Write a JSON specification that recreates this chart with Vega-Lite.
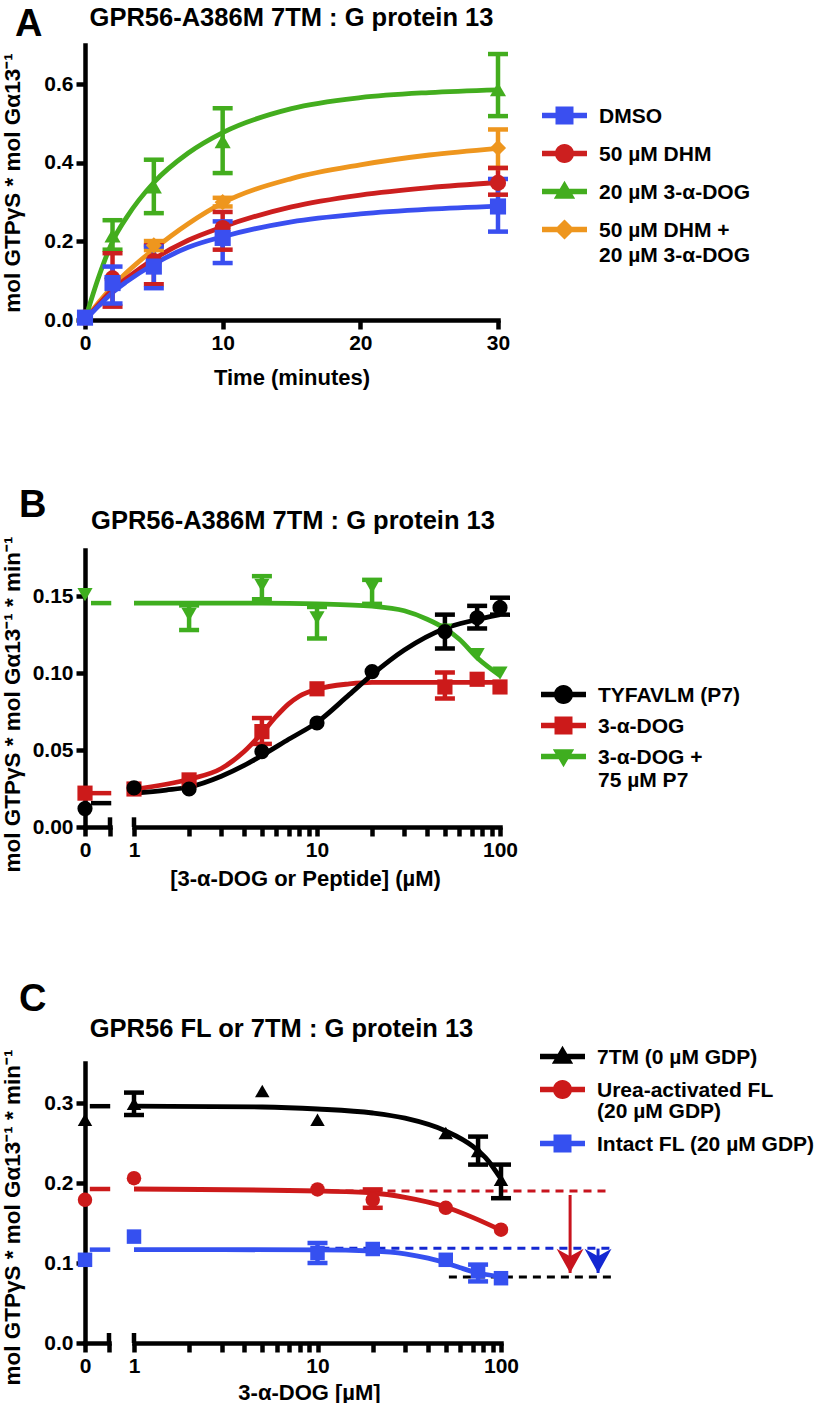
{
"$schema": "https://vega.github.io/schema/vega-lite/v6.json",
"background": "white",
"padding": {"left": 0, "top": 5, "right": 0, "bottom": 0},
"config": {
  "font": "Liberation Sans",
  "view": {"stroke": null},
  "axis": {"grid": false, "domainColor": "#000", "domainWidth": 4.5, "domainCap": "square", "tickColor": "#000", "tickWidth": 4.5, "tickSize": 9, "labelFont": "Liberation Sans", "labelFontSize": 21, "labelFontWeight": "bold", "labelColor": "#000", "labelPadding": 3, "labelFlush": false, "labelOverlap": false, "titleFont": "Liberation Sans", "titleFontSize": 22, "titleFontWeight": "bold", "titleColor": "#000"},
  "axisY": {"minExtent": 53, "maxExtent": 53, "titlePadding": 8, "titleFontSize": 22.5},
  "legend": {"labelFont": "Liberation Sans", "labelFontSize": 21, "labelFontWeight": "bold", "labelColor": "#000", "symbolSize": 506, "symbolStrokeWidth": 0, "symbolOpacity": 1, "labelOffset": 23, "labelLimit": 500, "labelBaseline": "top", "padding": 0},
  "title": {"font": "Liberation Sans", "fontWeight": "bold", "color": "#000"}
},
"datasets": {
  "A_pts": [
    {"t":0,"g":"50 µM DHM + 20 µM 3-α-DOG","y":0.006},
    {"t":2,"g":"50 µM DHM + 20 µM 3-α-DOG","y":0.1},
    {"t":5,"g":"50 µM DHM + 20 µM 3-α-DOG","y":0.19,"lo":0.178,"hi":0.201},
    {"t":10,"g":"50 µM DHM + 20 µM 3-α-DOG","y":0.3,"lo":0.289,"hi":0.311},
    {"t":30,"g":"50 µM DHM + 20 µM 3-α-DOG","y":0.438,"lo":0.387,"hi":0.485},
    {"t":0,"g":"20 µM 3-α-DOG","y":0.006},
    {"t":2,"g":"20 µM 3-α-DOG","y":0.215,"lo":0.179,"hi":0.254},
    {"t":5,"g":"20 µM 3-α-DOG","y":0.34,"lo":0.272,"hi":0.408},
    {"t":10,"g":"20 µM 3-α-DOG","y":0.455,"lo":0.374,"hi":0.539},
    {"t":30,"g":"20 µM 3-α-DOG","y":0.587,"lo":0.519,"hi":0.677},
    {"t":0,"g":"50 µM DHM","y":0.006},
    {"t":2,"g":"50 µM DHM","y":0.106,"lo":0.034,"hi":0.17},
    {"t":5,"g":"50 µM DHM","y":0.15,"lo":0.091,"hi":0.19},
    {"t":10,"g":"50 µM DHM","y":0.234,"lo":0.179,"hi":0.275},
    {"t":30,"g":"50 µM DHM","y":0.349,"lo":0.319,"hi":0.387},
    {"t":0,"g":"DMSO","y":0.006},
    {"t":2,"g":"DMSO","y":0.094,"lo":0.042,"hi":0.136},
    {"t":5,"g":"DMSO","y":0.136,"lo":0.081,"hi":0.187},
    {"t":10,"g":"DMSO","y":0.209,"lo":0.145,"hi":0.251},
    {"t":30,"g":"DMSO","y":0.289,"lo":0.225,"hi":0.359}
  ],
  "A_fit": [
    {"t":0,"g":"50 µM DHM + 20 µM 3-α-DOG","y":0},
    {"t":1,"g":"50 µM DHM + 20 µM 3-α-DOG","y":0.045},
    {"t":2,"g":"50 µM DHM + 20 µM 3-α-DOG","y":0.085},
    {"t":3,"g":"50 µM DHM + 20 µM 3-α-DOG","y":0.12},
    {"t":5,"g":"50 µM DHM + 20 µM 3-α-DOG","y":0.18},
    {"t":7.5,"g":"50 µM DHM + 20 µM 3-α-DOG","y":0.245},
    {"t":10,"g":"50 µM DHM + 20 µM 3-α-DOG","y":0.298},
    {"t":15,"g":"50 µM DHM + 20 µM 3-α-DOG","y":0.36},
    {"t":20,"g":"50 µM DHM + 20 µM 3-α-DOG","y":0.395},
    {"t":25,"g":"50 µM DHM + 20 µM 3-α-DOG","y":0.42},
    {"t":30,"g":"50 µM DHM + 20 µM 3-α-DOG","y":0.437},
    {"t":0,"g":"20 µM 3-α-DOG","y":0},
    {"t":1,"g":"20 µM 3-α-DOG","y":0.11},
    {"t":2,"g":"20 µM 3-α-DOG","y":0.2},
    {"t":3,"g":"20 µM 3-α-DOG","y":0.26},
    {"t":5,"g":"20 µM 3-α-DOG","y":0.35},
    {"t":7.5,"g":"20 µM 3-α-DOG","y":0.425},
    {"t":10,"g":"20 µM 3-α-DOG","y":0.477},
    {"t":15,"g":"20 µM 3-α-DOG","y":0.538},
    {"t":20,"g":"20 µM 3-α-DOG","y":0.566},
    {"t":25,"g":"20 µM 3-α-DOG","y":0.579},
    {"t":30,"g":"20 µM 3-α-DOG","y":0.586},
    {"t":0,"g":"50 µM DHM","y":0},
    {"t":1,"g":"50 µM DHM","y":0.04},
    {"t":2,"g":"50 µM DHM","y":0.077},
    {"t":3,"g":"50 µM DHM","y":0.105},
    {"t":5,"g":"50 µM DHM","y":0.155},
    {"t":7.5,"g":"50 µM DHM","y":0.203},
    {"t":10,"g":"50 µM DHM","y":0.237},
    {"t":15,"g":"50 µM DHM","y":0.288},
    {"t":20,"g":"50 µM DHM","y":0.318},
    {"t":25,"g":"50 µM DHM","y":0.337},
    {"t":30,"g":"50 µM DHM","y":0.35},
    {"t":0,"g":"DMSO","y":0},
    {"t":1,"g":"DMSO","y":0.036},
    {"t":2,"g":"DMSO","y":0.07},
    {"t":3,"g":"DMSO","y":0.097},
    {"t":5,"g":"DMSO","y":0.142},
    {"t":7.5,"g":"DMSO","y":0.185},
    {"t":10,"g":"DMSO","y":0.212},
    {"t":15,"g":"DMSO","y":0.25},
    {"t":20,"g":"DMSO","y":0.27},
    {"t":25,"g":"DMSO","y":0.282},
    {"t":30,"g":"DMSO","y":0.29}
  ],
  "B_pts": [
    {"c":0,"g":"3-α-DOG + 75 µM P7","y":0.151},
    {"c":2,"g":"3-α-DOG + 75 µM P7","y":0.138,"lo":0.128,"hi":0.144},
    {"c":5,"g":"3-α-DOG + 75 µM P7","y":0.157,"lo":0.148,"hi":0.163},
    {"c":10,"g":"3-α-DOG + 75 µM P7","y":0.136,"lo":0.1225,"hi":0.143},
    {"c":20,"g":"3-α-DOG + 75 µM P7","y":0.156,"lo":0.145,"hi":0.1606},
    {"c":50,"g":"3-α-DOG + 75 µM P7","y":0.128},
    {"c":75,"g":"3-α-DOG + 75 µM P7","y":0.112},
    {"c":100,"g":"3-α-DOG + 75 µM P7","y":0.1},
    {"c":0,"g":"3-α-DOG","y":0.022},
    {"c":1,"g":"3-α-DOG","y":0.0247},
    {"c":2,"g":"3-α-DOG","y":0.0306},
    {"c":5,"g":"3-α-DOG","y":0.062,"lo":0.054,"hi":0.0708},
    {"c":10,"g":"3-α-DOG","y":0.0898},
    {"c":50,"g":"3-α-DOG","y":0.091,"lo":0.0835,"hi":0.1004},
    {"c":75,"g":"3-α-DOG","y":0.096},
    {"c":100,"g":"3-α-DOG","y":0.091},
    {"c":0,"g":"TYFAVLM (P7)","y":0.012},
    {"c":1,"g":"TYFAVLM (P7)","y":0.0254},
    {"c":2,"g":"TYFAVLM (P7)","y":0.0247},
    {"c":5,"g":"TYFAVLM (P7)","y":0.049},
    {"c":10,"g":"TYFAVLM (P7)","y":0.0676},
    {"c":20,"g":"TYFAVLM (P7)","y":0.101},
    {"c":50,"g":"TYFAVLM (P7)","y":0.127,"lo":0.116,"hi":0.138},
    {"c":75,"g":"TYFAVLM (P7)","y":0.136,"lo":0.129,"hi":0.1437},
    {"c":100,"g":"TYFAVLM (P7)","y":0.1425,"lo":0.138,"hi":0.149}
  ],
  "B_fit": [
    {"c":1,"g":"3-α-DOG + 75 µM P7","y":0.1455},
    {"c":5,"g":"3-α-DOG + 75 µM P7","y":0.1455},
    {"c":10,"g":"3-α-DOG + 75 µM P7","y":0.145},
    {"c":20,"g":"3-α-DOG + 75 µM P7","y":0.1435},
    {"c":30,"g":"3-α-DOG + 75 µM P7","y":0.1405},
    {"c":40,"g":"3-α-DOG + 75 µM P7","y":0.135},
    {"c":50,"g":"3-α-DOG + 75 µM P7","y":0.129},
    {"c":60,"g":"3-α-DOG + 75 µM P7","y":0.122},
    {"c":75,"g":"3-α-DOG + 75 µM P7","y":0.11},
    {"c":100,"g":"3-α-DOG + 75 µM P7","y":0.0985},
    {"c":1,"g":"3-α-DOG","y":0.0245},
    {"c":2,"g":"3-α-DOG","y":0.031},
    {"c":3,"g":"3-α-DOG","y":0.038},
    {"c":4,"g":"3-α-DOG","y":0.049},
    {"c":5,"g":"3-α-DOG","y":0.061},
    {"c":6,"g":"3-α-DOG","y":0.072},
    {"c":7,"g":"3-α-DOG","y":0.08},
    {"c":8,"g":"3-α-DOG","y":0.085},
    {"c":10,"g":"3-α-DOG","y":0.0895},
    {"c":15,"g":"3-α-DOG","y":0.093},
    {"c":20,"g":"3-α-DOG","y":0.094},
    {"c":50,"g":"3-α-DOG","y":0.094},
    {"c":100,"g":"3-α-DOG","y":0.094},
    {"c":1,"g":"TYFAVLM (P7)","y":0.022},
    {"c":1.5,"g":"TYFAVLM (P7)","y":0.024},
    {"c":2,"g":"TYFAVLM (P7)","y":0.026},
    {"c":3,"g":"TYFAVLM (P7)","y":0.033},
    {"c":4,"g":"TYFAVLM (P7)","y":0.04},
    {"c":5,"g":"TYFAVLM (P7)","y":0.0465},
    {"c":7,"g":"TYFAVLM (P7)","y":0.057},
    {"c":10,"g":"TYFAVLM (P7)","y":0.068},
    {"c":15,"g":"TYFAVLM (P7)","y":0.086},
    {"c":20,"g":"TYFAVLM (P7)","y":0.099},
    {"c":30,"g":"TYFAVLM (P7)","y":0.115},
    {"c":50,"g":"TYFAVLM (P7)","y":0.129},
    {"c":70,"g":"TYFAVLM (P7)","y":0.134},
    {"c":100,"g":"TYFAVLM (P7)","y":0.138}
  ],
  "B_stub": [
    {"g":"TYFAVLM (P7)","level":0.0155},
    {"g":"3-α-DOG","level":0.022},
    {"g":"3-α-DOG + 75 µM P7","level":0.1455}
  ],
  "C_pts": [
    {"c":0,"g":"Intact FL (20 µM GDP)","y":0.104},
    {"c":1,"g":"Intact FL (20 µM GDP)","y":0.133},
    {"c":10,"g":"Intact FL (20 µM GDP)","y":0.1125,"lo":0.1,"hi":0.125},
    {"c":20,"g":"Intact FL (20 µM GDP)","y":0.1175},
    {"c":50,"g":"Intact FL (20 µM GDP)","y":0.104},
    {"c":75,"g":"Intact FL (20 µM GDP)","y":0.0896,"lo":0.077,"hi":0.098},
    {"c":100,"g":"Intact FL (20 µM GDP)","y":0.081},
    {"c":0,"g":"Urea-activated FL (20 µM GDP)","y":0.179},
    {"c":1,"g":"Urea-activated FL (20 µM GDP)","y":0.206},
    {"c":10,"g":"Urea-activated FL (20 µM GDP)","y":0.192},
    {"c":20,"g":"Urea-activated FL (20 µM GDP)","y":0.179,"lo":0.169,"hi":0.192},
    {"c":50,"g":"Urea-activated FL (20 µM GDP)","y":0.169},
    {"c":100,"g":"Urea-activated FL (20 µM GDP)","y":0.1417},
    {"c":0,"g":"7TM (0 µM GDP)","y":0.279},
    {"c":1,"g":"7TM (0 µM GDP)","y":0.299,"lo":0.285,"hi":0.313},
    {"c":5,"g":"7TM (0 µM GDP)","y":0.315},
    {"c":10,"g":"7TM (0 µM GDP)","y":0.279},
    {"c":50,"g":"7TM (0 µM GDP)","y":0.2625},
    {"c":75,"g":"7TM (0 µM GDP)","y":0.24,"lo":0.223,"hi":0.258},
    {"c":100,"g":"7TM (0 µM GDP)","y":0.204,"lo":0.181,"hi":0.223}
  ],
  "C_fit": [
    {"c":1,"g":"7TM (0 µM GDP)","y":0.296},
    {"c":5,"g":"7TM (0 µM GDP)","y":0.295},
    {"c":10,"g":"7TM (0 µM GDP)","y":0.2925},
    {"c":20,"g":"7TM (0 µM GDP)","y":0.2875},
    {"c":30,"g":"7TM (0 µM GDP)","y":0.281},
    {"c":50,"g":"7TM (0 µM GDP)","y":0.265},
    {"c":70,"g":"7TM (0 µM GDP)","y":0.246},
    {"c":85,"g":"7TM (0 µM GDP)","y":0.228},
    {"c":100,"g":"7TM (0 µM GDP)","y":0.205},
    {"c":1,"g":"Urea-activated FL (20 µM GDP)","y":0.1925},
    {"c":10,"g":"Urea-activated FL (20 µM GDP)","y":0.19},
    {"c":20,"g":"Urea-activated FL (20 µM GDP)","y":0.1875},
    {"c":30,"g":"Urea-activated FL (20 µM GDP)","y":0.182},
    {"c":50,"g":"Urea-activated FL (20 µM GDP)","y":0.17},
    {"c":70,"g":"Urea-activated FL (20 µM GDP)","y":0.157},
    {"c":100,"g":"Urea-activated FL (20 µM GDP)","y":0.141},
    {"c":1,"g":"Intact FL (20 µM GDP)","y":0.1167},
    {"c":10,"g":"Intact FL (20 µM GDP)","y":0.1165},
    {"c":20,"g":"Intact FL (20 µM GDP)","y":0.115},
    {"c":30,"g":"Intact FL (20 µM GDP)","y":0.1115},
    {"c":40,"g":"Intact FL (20 µM GDP)","y":0.106},
    {"c":50,"g":"Intact FL (20 µM GDP)","y":0.1},
    {"c":60,"g":"Intact FL (20 µM GDP)","y":0.094},
    {"c":75,"g":"Intact FL (20 µM GDP)","y":0.0875},
    {"c":100,"g":"Intact FL (20 µM GDP)","y":0.083}
  ],
  "C_stub": [
    {"g":"7TM (0 µM GDP)","level":0.296},
    {"g":"Urea-activated FL (20 µM GDP)","level":0.1925},
    {"g":"Intact FL (20 µM GDP)","level":0.1167}
  ],
  "C_guides": [
    {"guide":"Urea-activated plateau","level":0.19,"from":10,"to":398},
    {"guide":"Intact plateau","level":0.1185,"from":10.5,"to":398},
    {"guide":"Minimum","level":0.0825,"from":52,"to":398}
  ],
  "C_arrows": [
    {"guide":"Urea-activated plateau","x":238,"top":0.185,"tip":0.0875},
    {"guide":"Intact plateau","x":338,"top":0.118,"tip":0.0875}
  ]
},
"spacing": 91,
"vconcat": [
 {
  "spacing": 98,
  "vconcat": [
   {
    "title": {"text": "A", "anchor": "start", "fontSize": 38, "dx": 14, "offset": -38},
    "hconcat": [
     {
      "width": 413, "height": 275,
      "title": {"text": "GPR56-A386M 7TM : G protein 13", "fontSize": 25.5, "offset": 14, "dx": 0},
      "resolve": {"scale": {"color": "independent", "shape": "independent"}},
      "layer": [
       {"data": {"name": "A_fit"}, "mark": {"type": "line", "strokeWidth": 4.8, "interpolate": "monotone"},
        "encoding": {
         "x": {"field": "t", "type": "quantitative", "scale": {"domain": [0, 30]}, "axis": {"values": [0, 10, 20, 30], "title": "Time (minutes)", "titlePadding": 14}},
         "y": {"field": "y", "type": "quantitative", "scale": {"domain": [0, 0.7]}, "axis": {"values": [0, 0.2, 0.4, 0.6], "format": ".1f", "title": "mol GTPγS  * mol Gα13⁻¹"}},
         "color": {"field": "g", "type": "nominal", "scale": {"domain": ["DMSO", "50 µM DHM", "20 µM 3-α-DOG", "50 µM DHM + 20 µM 3-α-DOG"], "range": ["#3a4ff0", "#cc1f1f", "#43ad1e", "#ee961e"]}, "legend": null}}},
       {"data": {"name": "A_pts"}, "transform": [{"filter": "isValid(datum.lo)"}], "mark": {"type": "rule", "strokeWidth": 4.5},
        "encoding": {
         "x": {"field": "t", "type": "quantitative"},
         "y": {"field": "lo", "type": "quantitative"}, "y2": {"field": "hi"},
         "color": {"field": "g", "type": "nominal", "scale": {"domain": ["DMSO", "50 µM DHM", "20 µM 3-α-DOG", "50 µM DHM + 20 µM 3-α-DOG"], "range": ["#3a4ff0", "#cc1f1f", "#43ad1e", "#ee961e"]}, "legend": null}}},
       {"data": {"name": "A_pts"}, "transform": [{"filter": "isValid(datum.lo)"}], "mark": {"type": "tick", "orient": "horizontal", "size": 20, "thickness": 4.5, "opacity": 1},
        "encoding": {
         "x": {"field": "t", "type": "quantitative"},
         "y": {"field": "lo", "type": "quantitative"},
         "color": {"field": "g", "type": "nominal", "scale": {"domain": ["DMSO", "50 µM DHM", "20 µM 3-α-DOG", "50 µM DHM + 20 µM 3-α-DOG"], "range": ["#3a4ff0", "#cc1f1f", "#43ad1e", "#ee961e"]}, "legend": null}}},
       {"data": {"name": "A_pts"}, "transform": [{"filter": "isValid(datum.hi)"}], "mark": {"type": "tick", "orient": "horizontal", "size": 20, "thickness": 4.5, "opacity": 1},
        "encoding": {
         "x": {"field": "t", "type": "quantitative"},
         "y": {"field": "hi", "type": "quantitative"},
         "color": {"field": "g", "type": "nominal", "scale": {"domain": ["DMSO", "50 µM DHM", "20 µM 3-α-DOG", "50 µM DHM + 20 µM 3-α-DOG"], "range": ["#3a4ff0", "#cc1f1f", "#43ad1e", "#ee961e"]}, "legend": null}}},
       {"data": {"name": "A_pts"}, "mark": {"type": "point", "filled": true, "size": 260, "opacity": 1},
        "encoding": {
         "x": {"field": "t", "type": "quantitative"},
         "y": {"field": "y", "type": "quantitative"},
         "color": {"field": "g", "type": "nominal", "scale": {"domain": ["DMSO", "50 µM DHM", "20 µM 3-α-DOG", "50 µM DHM + 20 µM 3-α-DOG"], "range": ["#3a4ff0", "#cc1f1f", "#43ad1e", "#ee961e"]}, "legend": null},
         "shape": {"field": "g", "type": "nominal", "scale": {"domain": ["DMSO", "50 µM DHM", "20 µM 3-α-DOG", "50 µM DHM + 20 µM 3-α-DOG"], "range": ["square", "circle", "triangle-up", "diamond"]}, "legend": null}}},
       {"data": {"name": "A_pts"}, "mark": {"type": "point", "filled": true, "opacity": 0},
        "encoding": {
         "x": {"field": "t", "type": "quantitative"},
         "y": {"field": "y", "type": "quantitative"},
         "color": {"field": "g", "type": "nominal", "scale": {"domain": ["DMSO", "50 µM DHM", "20 µM 3-α-DOG", "50 µM DHM + 20 µM 3-α-DOG"], "range": ["#3a4ff0", "#cc1f1f", "#43ad1e", "#ee961e"]},
          "legend": {"title": null, "orient": "none", "legendX": 468, "legendY": 59, "rowPadding": 15, "labelExpr": "datum.label == '50 µM DHM + 20 µM 3-α-DOG' ? ['50 µM DHM +', '20 µM 3-α-DOG'] : datum.label", "encode": {"labels": {"update": {"dy": {"value": -10}, "lineHeight": {"value": 25}}}}}},
         "shape": {"field": "g", "type": "nominal", "scale": {"domain": ["DMSO", "50 µM DHM", "20 µM 3-α-DOG", "50 µM DHM + 20 µM 3-α-DOG"], "range": [
            "M-2,-0.25H-0.8V-0.8H0.8V-0.25H2V0.25H0.8V0.8H-0.8V0.25H-2Z",
            "M-2,-0.25H-0.8V0.25H-2Z M0.8,-0.25H2V0.25H0.8Z M-0.85,0A0.85,0.85 0 1,1 0.85,0A0.85,0.85 0 1,1 -0.85,0Z",
            "M-2,-0.25H-0.416L0,-0.95L0.416,-0.25H2V0.25H0.713L0.95,0.65H-0.95L-0.713,0.25H-2Z",
            "M-2,-0.25H-0.65L0,-0.9L0.65,-0.25H2V0.25H0.65L0,0.9L-0.65,0.25H-2Z"]},
          "legend": {"title": null, "orient": "none", "legendX": 468, "legendY": 59, "rowPadding": 15, "labelExpr": "datum.label == '50 µM DHM + 20 µM 3-α-DOG' ? ['50 µM DHM +', '20 µM 3-α-DOG'] : datum.label", "encode": {"labels": {"update": {"dy": {"value": -10}, "lineHeight": {"value": 25}}}}}}}}
      ]
     }
    ]
   },
   {
    "title": {"text": "B", "anchor": "start", "fontSize": 38, "dx": 18, "offset": -16},
    "spacing": 24,
    "bounds": "flush",
    "resolve": {"scale": {"x": "independent", "y": "independent", "color": "independent", "shape": "independent"}},
    "hconcat": [
     {
      "width": 25, "height": 277,
      "resolve": {"scale": {"color": "independent", "shape": "independent"}},
      "layer": [
       {"data": {"name": "B_stub"}, "mark": {"type": "rule", "strokeWidth": 4.5},
        "encoding": {
         "x": {"datum": 0.24, "type": "quantitative", "scale": {"domain": [0, 1]}, "axis": {"values": [0, 1], "labelExpr": "datum.value == 0 ? '0' : ''", "title": null}},
         "x2": {"datum": 1.05},
         "y": {"field": "level", "type": "quantitative", "scale": {"domain": [0, 0.175]}, "axis": {"values": [0, 0.05, 0.1, 0.15], "format": ".2f", "title": "mol GTPγS * mol Gα13⁻¹ * min⁻¹", "titleY": 154}},
         "color": {"field": "g", "type": "nominal", "scale": {"domain": ["TYFAVLM (P7)", "3-α-DOG", "3-α-DOG + 75 µM P7"], "range": ["#000000", "#cc1a1a", "#3fae1f"]}, "legend": null}}},
       {"data": {"name": "B_pts"}, "transform": [{"filter": "datum.c == 0"}], "mark": {"type": "point", "filled": true, "size": 230, "opacity": 1},
        "encoding": {
         "x": {"field": "c", "type": "quantitative"},
         "y": {"field": "y", "type": "quantitative"},
         "color": {"field": "g", "type": "nominal", "scale": {"domain": ["TYFAVLM (P7)", "3-α-DOG", "3-α-DOG + 75 µM P7"], "range": ["#000000", "#cc1a1a", "#3fae1f"]}, "legend": null},
         "shape": {"field": "g", "type": "nominal", "scale": {"domain": ["TYFAVLM (P7)", "3-α-DOG", "3-α-DOG + 75 µM P7"], "range": ["circle", "square", "triangle-down"]}, "legend": null}}},
       {"data": {"values": [{}]}, "mark": {"type": "rule", "strokeWidth": 4.5, "color": "#000"},
        "encoding": {"x": {"datum": 1, "type": "quantitative"}, "y": {"datum": 0, "type": "quantitative"}, "y2": {"datum": 0.0063}}}
      ]
     },
     {
      "width": 366, "height": 277,
      "title": {"text": "GPR56-A386M 7TM : G protein 13", "fontSize": 25.5, "offset": 16, "dx": -24},
      "resolve": {"scale": {"color": "independent", "shape": "independent"}},
      "layer": [
       {"data": {"name": "B_fit"}, "mark": {"type": "line", "strokeWidth": 4.8, "interpolate": "monotone"},
        "encoding": {
         "x": {"field": "c", "type": "quantitative", "scale": {"type": "log", "domain": [1, 100]}, "axis": {"values": [1, 2, 3, 4, 5, 6, 7, 8, 9, 10, 20, 30, 40, 50, 60, 70, 80, 90, 100], "labelExpr": "datum.value == 1 || datum.value == 10 || datum.value == 100 ? '' + datum.value : ''", "title": "[3-α-DOG or Peptide] (µM)", "titlePadding": 8, "titleX": 171}},
         "y": {"field": "y", "type": "quantitative", "scale": {"domain": [0, 0.175]}, "axis": null},
         "color": {"field": "g", "type": "nominal", "scale": {"domain": ["TYFAVLM (P7)", "3-α-DOG", "3-α-DOG + 75 µM P7"], "range": ["#000000", "#cc1a1a", "#3fae1f"]}, "legend": null}}},
       {"data": {"name": "B_pts"}, "transform": [{"filter": "datum.c > 0 && isValid(datum.lo)"}], "mark": {"type": "rule", "strokeWidth": 4.5},
        "encoding": {
         "x": {"field": "c", "type": "quantitative"},
         "y": {"field": "lo", "type": "quantitative"}, "y2": {"field": "hi"},
         "color": {"field": "g", "type": "nominal", "scale": {"domain": ["TYFAVLM (P7)", "3-α-DOG", "3-α-DOG + 75 µM P7"], "range": ["#000000", "#cc1a1a", "#3fae1f"]}, "legend": null}}},
       {"data": {"name": "B_pts"}, "transform": [{"filter": "datum.c > 0 && isValid(datum.lo)"}], "mark": {"type": "tick", "orient": "horizontal", "size": 20, "thickness": 4.5, "opacity": 1},
        "encoding": {
         "x": {"field": "c", "type": "quantitative"},
         "y": {"field": "lo", "type": "quantitative"},
         "color": {"field": "g", "type": "nominal", "scale": {"domain": ["TYFAVLM (P7)", "3-α-DOG", "3-α-DOG + 75 µM P7"], "range": ["#000000", "#cc1a1a", "#3fae1f"]}, "legend": null}}},
       {"data": {"name": "B_pts"}, "transform": [{"filter": "datum.c > 0 && isValid(datum.hi)"}], "mark": {"type": "tick", "orient": "horizontal", "size": 20, "thickness": 4.5, "opacity": 1},
        "encoding": {
         "x": {"field": "c", "type": "quantitative"},
         "y": {"field": "hi", "type": "quantitative"},
         "color": {"field": "g", "type": "nominal", "scale": {"domain": ["TYFAVLM (P7)", "3-α-DOG", "3-α-DOG + 75 µM P7"], "range": ["#000000", "#cc1a1a", "#3fae1f"]}, "legend": null}}},
       {"data": {"name": "B_pts"}, "transform": [{"filter": "datum.c > 0"}], "mark": {"type": "point", "filled": true, "size": 230, "opacity": 1},
        "encoding": {
         "x": {"field": "c", "type": "quantitative"},
         "y": {"field": "y", "type": "quantitative"},
         "color": {"field": "g", "type": "nominal", "scale": {"domain": ["TYFAVLM (P7)", "3-α-DOG", "3-α-DOG + 75 µM P7"], "range": ["#000000", "#cc1a1a", "#3fae1f"]}, "legend": null},
         "shape": {"field": "g", "type": "nominal", "scale": {"domain": ["TYFAVLM (P7)", "3-α-DOG", "3-α-DOG + 75 µM P7"], "range": ["circle", "square", "triangle-down"]}, "legend": null}}},
       {"data": {"values": [{}]}, "mark": {"type": "rule", "strokeWidth": 4.5, "color": "#000"},
        "encoding": {"x": {"datum": 1, "type": "quantitative"}, "y": {"datum": 0, "type": "quantitative"}, "y2": {"datum": 0.0063}}},
       {"data": {"name": "B_pts"}, "transform": [{"filter": "datum.c > 0"}], "mark": {"type": "point", "filled": true, "opacity": 0},
        "encoding": {
         "x": {"field": "c", "type": "quantitative"},
         "y": {"field": "y", "type": "quantitative"},
         "color": {"field": "g", "type": "nominal", "scale": {"domain": ["TYFAVLM (P7)", "3-α-DOG", "3-α-DOG + 75 µM P7"], "range": ["#000000", "#cc1a1a", "#3fae1f"]},
          "legend": {"title": null, "orient": "none", "legendX": 418, "legendY": 133, "rowPadding": 8, "labelExpr": "datum.label == '3-α-DOG + 75 µM P7' ? ['\u00a03-α-DOG +', '\u00a0\u00a0\u00a075 µM P7'] : datum.label", "encode": {"labels": {"update": {"dy": {"value": -10}, "lineHeight": {"value": 23}}}}}},
         "shape": {"field": "g", "type": "nominal", "scale": {"domain": ["TYFAVLM (P7)", "3-α-DOG", "3-α-DOG + 75 µM P7"], "range": [
            "M-2,-0.25H-0.8V0.25H-2Z M0.8,-0.25H2V0.25H0.8Z M-0.85,0A0.85,0.85 0 1,1 0.85,0A0.85,0.85 0 1,1 -0.85,0Z",
            "M-2,-0.25H-0.8V-0.8H0.8V-0.25H2V0.25H0.8V0.8H-0.8V0.25H-2Z",
            "M-2,-0.25H-0.713L-0.95,-0.65H0.95L0.713,-0.25H2V0.25H0.416L0,0.95L-0.416,0.25H-2Z"]},
          "legend": {"title": null, "orient": "none", "legendX": 418, "legendY": 133, "rowPadding": 8, "labelExpr": "datum.label == '3-α-DOG + 75 µM P7' ? ['\u00a03-α-DOG +', '\u00a0\u00a0\u00a075 µM P7'] : datum.label", "encode": {"labels": {"update": {"dy": {"value": -10}, "lineHeight": {"value": 23}}}}}}}}
      ]
     }
    ]
   }
  ]
 },
 {
  "title": {"text": "C", "anchor": "start", "fontSize": 38, "dx": 18, "offset": -2},
  "spacing": 25,
  "bounds": "flush",
  "resolve": {"scale": {"x": "independent", "y": "independent", "color": "independent", "shape": "independent"}},
  "hconcat": [
   {
    "width": 24, "height": 280,
    "resolve": {"scale": {"color": "independent", "shape": "independent"}},
    "layer": [
     {"data": {"name": "C_stub"}, "mark": {"type": "rule", "strokeWidth": 4.5},
      "encoding": {
       "x": {"datum": 0.2, "type": "quantitative", "scale": {"domain": [0, 1]}, "axis": {"values": [0, 1], "labelExpr": "datum.value == 0 ? '0' : ''", "title": null}},
       "x2": {"datum": 1.05},
       "y": {"field": "level", "type": "quantitative", "scale": {"domain": [0, 0.35]}, "axis": {"values": [0, 0.1, 0.2, 0.3], "format": ".1f", "title": "mol GTPγS * mol Gα13⁻¹ * min⁻¹", "titleY": 154}},
       "color": {"field": "g", "type": "nominal", "scale": {"domain": ["7TM (0 µM GDP)", "Urea-activated FL (20 µM GDP)", "Intact FL (20 µM GDP)"], "range": ["#000000", "#cc1a1a", "#3550f0"]}, "legend": null}}},
     {"data": {"name": "C_pts"}, "transform": [{"filter": "datum.c == 0"}], "mark": {"type": "point", "filled": true, "size": 210, "opacity": 1},
      "encoding": {
       "x": {"field": "c", "type": "quantitative"},
       "y": {"field": "y", "type": "quantitative"},
       "color": {"field": "g", "type": "nominal", "scale": {"domain": ["7TM (0 µM GDP)", "Urea-activated FL (20 µM GDP)", "Intact FL (20 µM GDP)"], "range": ["#000000", "#cc1a1a", "#3550f0"]}, "legend": null},
       "shape": {"field": "g", "type": "nominal", "scale": {"domain": ["7TM (0 µM GDP)", "Urea-activated FL (20 µM GDP)", "Intact FL (20 µM GDP)"], "range": ["triangle-up", "circle", "square"]}, "legend": null}}},
     {"data": {"values": [{}]}, "mark": {"type": "rule", "strokeWidth": 4.5, "color": "#000"},
      "encoding": {"x": {"datum": 1, "type": "quantitative"}, "y": {"datum": 0, "type": "quantitative"}, "y2": {"datum": 0.0125}}}
    ]
   },
   {
    "width": 367, "height": 280,
    "title": {"text": "GPR56 FL or 7TM : G protein 13", "fontSize": 25.5, "offset": 3, "dx": -36},
    "resolve": {"scale": {"color": "independent", "shape": "independent"}},
    "layer": [
     {"data": {"name": "C_guides"}, "mark": {"type": "rule", "strokeWidth": 3, "strokeDash": [8, 6]},
      "encoding": {
       "x": {"field": "from", "type": "quantitative", "scale": {"type": "log", "domain": [1, 100]}, "axis": {"values": [1, 2, 3, 4, 5, 6, 7, 8, 9, 10, 20, 30, 40, 50, 60, 70, 80, 90, 100], "labelExpr": "datum.value == 1 || datum.value == 10 || datum.value == 100 ? '' + datum.value : ''", "title": "3-α-DOG [µM]", "titlePadding": 6, "titleX": 175}},
       "x2": {"field": "to"},
       "y": {"field": "level", "type": "quantitative", "scale": {"domain": [0, 0.35]}, "axis": null},
       "color": {"field": "guide", "type": "nominal", "scale": {"domain": ["Urea-activated plateau", "Intact plateau", "Minimum"], "range": ["#c8141e", "#1428d2", "#000000"]}, "legend": null}}},
     {"data": {"name": "C_fit"}, "mark": {"type": "line", "strokeWidth": 4.8, "interpolate": "monotone"},
      "encoding": {
       "x": {"field": "c", "type": "quantitative"},
       "y": {"field": "y", "type": "quantitative"},
       "color": {"field": "g", "type": "nominal", "scale": {"domain": ["7TM (0 µM GDP)", "Urea-activated FL (20 µM GDP)", "Intact FL (20 µM GDP)"], "range": ["#000000", "#cc1a1a", "#3550f0"]}, "legend": null}}},
     {"data": {"name": "C_pts"}, "transform": [{"filter": "datum.c > 0 && isValid(datum.lo)"}], "mark": {"type": "rule", "strokeWidth": 4.5},
      "encoding": {
       "x": {"field": "c", "type": "quantitative"},
       "y": {"field": "lo", "type": "quantitative"}, "y2": {"field": "hi"},
       "color": {"field": "g", "type": "nominal", "scale": {"domain": ["7TM (0 µM GDP)", "Urea-activated FL (20 µM GDP)", "Intact FL (20 µM GDP)"], "range": ["#000000", "#cc1a1a", "#3550f0"]}, "legend": null}}},
     {"data": {"name": "C_pts"}, "transform": [{"filter": "datum.c > 0 && isValid(datum.lo)"}], "mark": {"type": "tick", "orient": "horizontal", "size": 20, "thickness": 4.5, "opacity": 1},
      "encoding": {
       "x": {"field": "c", "type": "quantitative"},
       "y": {"field": "lo", "type": "quantitative"},
       "color": {"field": "g", "type": "nominal", "scale": {"domain": ["7TM (0 µM GDP)", "Urea-activated FL (20 µM GDP)", "Intact FL (20 µM GDP)"], "range": ["#000000", "#cc1a1a", "#3550f0"]}, "legend": null}}},
     {"data": {"name": "C_pts"}, "transform": [{"filter": "datum.c > 0 && isValid(datum.hi)"}], "mark": {"type": "tick", "orient": "horizontal", "size": 20, "thickness": 4.5, "opacity": 1},
      "encoding": {
       "x": {"field": "c", "type": "quantitative"},
       "y": {"field": "hi", "type": "quantitative"},
       "color": {"field": "g", "type": "nominal", "scale": {"domain": ["7TM (0 µM GDP)", "Urea-activated FL (20 µM GDP)", "Intact FL (20 µM GDP)"], "range": ["#000000", "#cc1a1a", "#3550f0"]}, "legend": null}}},
     {"data": {"name": "C_pts"}, "transform": [{"filter": "datum.c > 0"}], "mark": {"type": "point", "filled": true, "size": 210, "opacity": 1},
      "encoding": {
       "x": {"field": "c", "type": "quantitative"},
       "y": {"field": "y", "type": "quantitative"},
       "color": {"field": "g", "type": "nominal", "scale": {"domain": ["7TM (0 µM GDP)", "Urea-activated FL (20 µM GDP)", "Intact FL (20 µM GDP)"], "range": ["#000000", "#cc1a1a", "#3550f0"]}, "legend": null},
       "shape": {"field": "g", "type": "nominal", "scale": {"domain": ["7TM (0 µM GDP)", "Urea-activated FL (20 µM GDP)", "Intact FL (20 µM GDP)"], "range": ["triangle-up", "circle", "square"]}, "legend": null}}},
     {"data": {"name": "C_arrows"}, "mark": {"type": "rule", "strokeWidth": 3},
      "encoding": {
       "x": {"field": "x", "type": "quantitative"},
       "y": {"field": "top", "type": "quantitative"}, "y2": {"field": "tip"},
       "color": {"field": "guide", "type": "nominal", "scale": {"domain": ["Urea-activated plateau", "Intact plateau", "Minimum"], "range": ["#c8141e", "#1428d2", "#000000"]}, "legend": null}}},
     {"data": {"name": "C_arrows"}, "mark": {"type": "point", "filled": true, "size": 729, "opacity": 1, "shape": "M0,0L-1,-1.8L0,-1.25L1,-1.8Z"},
      "encoding": {
       "x": {"field": "x", "type": "quantitative"},
       "y": {"field": "tip", "type": "quantitative"},
       "color": {"field": "guide", "type": "nominal", "scale": {"domain": ["Urea-activated plateau", "Intact plateau", "Minimum"], "range": ["#c8141e", "#1428d2", "#000000"]}, "legend": null}}},
     {"data": {"values": [{}]}, "mark": {"type": "rule", "strokeWidth": 4.5, "color": "#000"},
      "encoding": {"x": {"datum": 1, "type": "quantitative"}, "y": {"datum": 0, "type": "quantitative"}, "y2": {"datum": 0.0125}}},
     {"data": {"name": "C_pts"}, "transform": [{"filter": "datum.c > 0"}], "mark": {"type": "point", "filled": true, "opacity": 0},
      "encoding": {
       "x": {"field": "c", "type": "quantitative"},
       "y": {"field": "y", "type": "quantitative"},
       "color": {"field": "g", "type": "nominal", "scale": {"domain": ["7TM (0 µM GDP)", "Urea-activated FL (20 µM GDP)", "Intact FL (20 µM GDP)"], "range": ["#000000", "#cc1a1a", "#3550f0"]},
        "legend": {"title": null, "orient": "none", "legendX": 417, "legendY": -18, "rowPadding": 10, "labelExpr": "datum.label == 'Urea-activated FL (20 µM GDP)' ? ['Urea-activated FL', '(20 µM GDP)'] : datum.label", "encode": {"labels": {"update": {"dy": {"value": -10}, "lineHeight": {"value": 21}}}}}},
       "shape": {"field": "g", "type": "nominal", "scale": {"domain": ["7TM (0 µM GDP)", "Urea-activated FL (20 µM GDP)", "Intact FL (20 µM GDP)"], "range": [
          "M-2,-0.25H-0.416L0,-0.95L0.416,-0.25H2V0.25H0.713L0.95,0.65H-0.95L-0.713,0.25H-2Z",
          "M-2,-0.25H-0.8V0.25H-2Z M0.8,-0.25H2V0.25H0.8Z M-0.85,0A0.85,0.85 0 1,1 0.85,0A0.85,0.85 0 1,1 -0.85,0Z",
          "M-2,-0.25H-0.8V-0.8H0.8V-0.25H2V0.25H0.8V0.8H-0.8V0.25H-2Z"]},
        "legend": {"title": null, "orient": "none", "legendX": 417, "legendY": -18, "rowPadding": 10, "labelExpr": "datum.label == 'Urea-activated FL (20 µM GDP)' ? ['Urea-activated FL', '(20 µM GDP)'] : datum.label", "encode": {"labels": {"update": {"dy": {"value": -10}, "lineHeight": {"value": 21}}}}}}}}
    ]
   }
  ]
 }
]
}
